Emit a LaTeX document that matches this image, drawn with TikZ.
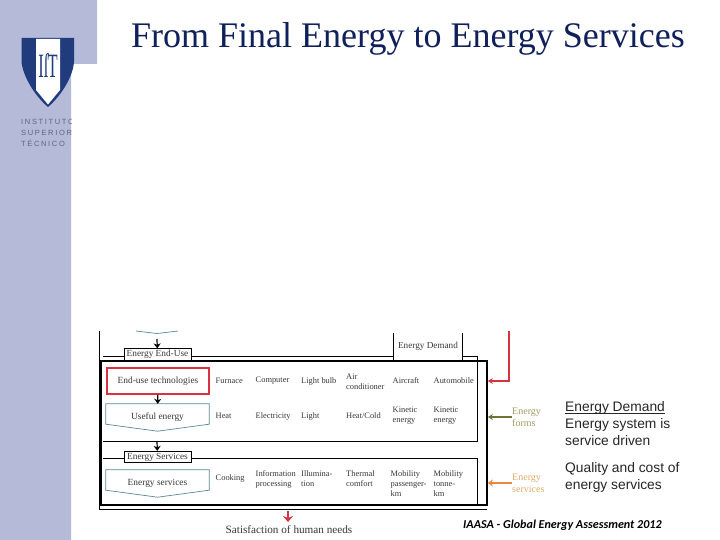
\documentclass[tikz,border=0pt]{standalone}
\usepackage{fontspec}
\usepackage{tikz}
\usetikzlibrary{arrows.meta,calc}
\setmainfont{Liberation Serif}
\setsansfont{Liberation Sans}
\newfontfamily\citefont{Carlito}
\newfontfamily\logofont[LetterSpace=22]{Liberation Sans}
\definecolor{SideBg}  {RGB}{180,186,216}
\definecolor{LogoBlue}{RGB}{33,60,125}
\definecolor{LogoTxt} {RGB}{95,100,125}
\definecolor{TitleCol}{RGB}{16,32,90}
\definecolor{PentLine}{RGB}{92,135,150}
\definecolor{TechRed} {RGB}{215,50,65}
\definecolor{FormCol} {RGB}{110,115,60}
\definecolor{FormTxt} {RGB}{165,155,95}
\definecolor{ServCol} {RGB}{235,135,60}
\definecolor{ServTxt} {RGB}{225,170,110}
\definecolor{CellTxt} {RGB}{55,55,55}
\tikzset{
  nd_title/.style={anchor=west,inner sep=0pt,font=\fontsize{36}{40}\selectfont,text=TitleCol},
  nd_logo/.style={anchor=west,inner sep=0pt,font=\logofont\fontsize{7.5}{9}\selectfont,text=LogoTxt},
  nd_cell/.style={anchor=west,inner sep=0pt,align=left,font=\fontsize{8.4}{10}\selectfont,text=CellTxt},
  nd_head/.style={draw=black,line width=0.8pt,inner sep=0pt,minimum width=67pt,minimum height=11.5pt,fill=white,font=\fontsize{9.3}{10}\selectfont,text=CellTxt},
  nd_tech/.style={draw=TechRed,line width=1.6pt,inner sep=0pt,minimum width=102pt,minimum height=26pt,font=\fontsize{9.4}{10}\selectfont,text=CellTxt},
  nd_pent/.style={inner sep=0pt,minimum width=103pt,font=\fontsize{9.4}{10}\selectfont,text=CellTxt},
  nd_side/.style={anchor=west,inner sep=0pt,align=left,font=\fontsize{10}{12}\selectfont},
  nd_note/.style={anchor=west,inner sep=0pt,align=left,font=\sffamily\fontsize{13.8}{17}\selectfont,text=black!85},
  thin_ln/.style={line width=0.8pt,black},
  arr/.style={-{Stealth[length=5pt,width=7pt]},line width=1.2pt},
  arr_thin/.style={-{Stealth[length=5pt,width=6pt]},line width=1.1pt},
  arr_need/.style={-{Stealth[length=6pt,width=10pt]},line width=1.8pt},
}
% pentagon with its point downwards: x, y of centre, height, name, text
\newcommand{\pentbox}[5]{%
  \node[nd_pent,minimum height=#3] at (#1,#2)(#4){#5};
  \draw[PentLine,line width=0.7pt](#4.north west)--(#4.north east)--($(#4.south east)+(0,7)$)--(#4.south)--($(#4.south west)+(0,7)$)--cycle;}

\begin{document}
\begin{tikzpicture}[x=1pt,y=1pt]
\useasboundingbox (0,0) rectangle (720,-540);
\fill[white](0,0) rectangle (720,-540);
% side bar
\fill[SideBg](0,0)--(97,0)--(97,-64)--(71,-64)--(71,-540)--(0,-540)--cycle;
\fill[LogoBlue](21.5,-38)--(74,-38)--(74,-62) .. controls (73,-76) and (62,-95) .. (48,-107) .. controls (34,-95) and (23,-76) .. (21.5,-62)--cycle;
\fill[white](36,-39)--(60,-39)--(60,-90)--(48,-104.5)--(36,-90)--cycle;
\node[inner sep=0pt,text=LogoBlue,font=\fontsize{22}{22}\selectfont] at (48,-65)(LogoMark){\scalebox{0.75}[1.55]{Iſ\hspace{-1pt}T}};
\begin{scope}
\clip (0,0) rectangle (71,-540);
\node[nd_logo] at (21,-122)(LogoA){INSTITUTO};
\node[nd_logo] at (21,-132.5)(LogoB){SUPERIOR};
\node[nd_logo] at (21,-143)(LogoC){TÉCNICO};
\end{scope}
\node[nd_title] at (131,-39)(Title){From Final Energy to Energy Services};
% frame and rules
\draw[thin_ln](99.5,-331)--(99.5,-509)--(487,-509);
\draw[thin_ln](103,-356)--(477,-356)--(477,-441)--(103,-441);
\draw[thin_ln](103,-458)--(477,-458)--(477,-505);
\node[draw=black,line width=1.7pt,inner sep=0pt,minimum width=386pt,minimum height=144pt] at (294,-433)(Frame){};
\node[nd_head] at (157.5,-354.5)(EndUse){Energy End-Use};
\node[nd_head] at (157.5,-457)(Services){Energy Services};
\node[inner sep=0pt,minimum width=68pt,minimum height=27pt,fill=white,font=\fontsize{9.2}{10}\selectfont,text=CellTxt] at (428,-346.5)(Demand){Energy Demand};
\draw[thin_ln](Demand.north west)--(Demand.south west);
\draw[thin_ln](Demand.north east)--(Demand.south east);
\draw[PentLine,line width=0.7pt](136,-331)--(157,-333.5)--(178,-331);
% left column
\node[nd_tech] at (158,-381)(Tech){End-use technologies};
\pentbox{157.5}{-417.5}{27pt}{Useful}{Useful energy}
\pentbox{157.5}{-483.5}{27pt}{EnServ}{Energy services}
% row one
\node[nd_cell] at (215.5,-381)(R1a){Furnace};
\node[nd_cell] at (255.5,-381)(R1b){Computer};
\node[nd_cell] at (301,-381)(R1c){Light bulb};
\node[nd_cell] at (346,-382)(R1d){Air\\conditioner};
\node[nd_cell] at (392.5,-381)(R1e){Aircraft};
\node[nd_cell] at (433.5,-381)(R1f){Automobile};
% row two
\node[nd_cell] at (215.5,-416)(R2a){Heat};
\node[nd_cell] at (255.5,-416)(R2b){Electricity};
\node[nd_cell] at (301,-416)(R2c){Light};
\node[nd_cell] at (346,-416)(R2d){Heat/Cold};
\node[nd_cell] at (392.5,-416)(R2e){Kinetic\\energy};
\node[nd_cell] at (433.5,-416)(R2f){Kinetic\\energy};
% row three
\node[nd_cell] at (215.5,-478)(R3a){Cooking};
\node[nd_cell] at (255.5,-479)(R3b){Information\\processing};
\node[nd_cell] at (301,-479)(R3c){Illumina-\\tion};
\node[nd_cell] at (346,-479)(R3d){Thermal\\comfort};
\node[nd_cell] at (390.5,-484)(R3e){Mobility\\passenger-\\km};
\node[nd_cell] at (433.5,-484)(R3f){Mobility\\tonne-\\km};
\node[inner sep=0pt,font=\fontsize{11.2}{13}\selectfont,text=CellTxt] at (289,-529.5)(Need){Satisfaction of human needs};
% right labels
\node[nd_side,text=FormTxt] at (512,-417)(Forms){Energy\\forms};
\node[nd_side,text=ServTxt] at (512,-483)(SrvLbl){Energy\\services};
\node[nd_note] at (565,-429)(NoteA){\underline{\smash{Energy Demand}}\\Energy system is\\service driven};
\node[nd_note] at (565,-477.5)(NoteB){Quality and cost of\\energy services};
\node[anchor=west,inner sep=0pt,font=\citefont\itshape\bfseries\fontsize{12.1}{15}\selectfont] at (463,-525.5)(Cite){IAASA - Global Energy Assessment 2012};
% arrows
\coordinate (TopEnd) at (157,-339);
\coordinate (RuleEnd) at (157,-441);
\coordinate (NeedTop) at (288,-511);
\coordinate (NeedTip) at (288,-522);
\coordinate (RedTop) at (509,-331);
\coordinate (RedKnee) at (509,-381);
\draw[arr](TopEnd)--(EndUse);
\draw[arr](Tech)--(Useful);
\draw[arr](RuleEnd)--(Services);
\draw[arr_need,TechRed](NeedTop)--(NeedTip);
\draw[arr_thin,TechRed](RedTop)--(RedKnee)--(Frame.east|-RedKnee);
\draw[arr_thin,FormCol](Forms.west)--(Frame.east|-Forms.west);
\draw[arr,ServCol,line width=1.8pt](SrvLbl.west)--(Frame.east|-SrvLbl.west);
\end{tikzpicture}
\end{document}
